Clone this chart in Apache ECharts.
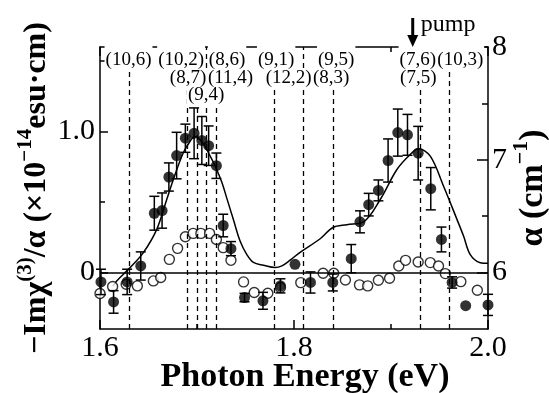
<!DOCTYPE html>
<html>
<head>
<meta charset="UTF-8">
<title></title>
<style>
  html, body { margin: 0; padding: 0; background: #fff; }
  #chart { width: 549px; height: 393px; }
</style>
</head>
<body>
<div id="chart"></div>
<script src="https://cdn.jsdelivr.net/npm/echarts@6/dist/echarts.min.js"></script>
<script>
// filled dots: -Im chi(3)/alpha with error bars
var energyFilled = [1.601, 1.614, 1.628, 1.642, 1.656, 1.664, 1.671, 1.679, 1.688, 1.697, 1.705, 1.712,
    1.720, 1.727, 1.735, 1.749, 1.768, 1.786, 1.801, 1.817, 1.840, 1.859, 1.868, 1.877, 1.887, 1.897,
    1.907, 1.917, 1.928, 1.941, 1.952, 1.963, 1.977, 2.000];
var chiFilled = [-0.066, -0.208, -0.066, 0.047, 0.421, 0.44, 0.678, 0.83, 0.953, 0.988, 0.937, 0.90,
    0.758, 0.334, 0.17, -0.177, -0.20, -0.094, 0.059, -0.07, -0.07, 0.099, 0.36, 0.482, 0.583, 0.795,
    0.993, 0.977, 0.847, 0.595, 0.235, -0.07, -0.235, -0.229];
var errFilled = [0.09, 0.08, 0.09, 0.10, 0.12, 0.125, 0.10, 0.165, 0.10, 0.18, 0.17, 0.14,
    0.09, 0.08, 0.05, 0.03, 0.06, 0.05, 0, 0.075, 0.06, 0.10, 0.078, 0.08, 0.074, 0.153,
    0.167, 0.145, 0.19, 0.15, 0.088, 0.04, 0, 0.075];

// open circles
var energyOpen = [1.600, 1.613, 1.627, 1.6385, 1.655, 1.6626, 1.6715, 1.680, 1.688, 1.696, 1.704, 1.713,
    1.720, 1.727, 1.735, 1.748, 1.759, 1.773, 1.786, 1.807, 1.830, 1.841, 1.853, 1.8675, 1.876, 1.887,
    1.8985, 1.908, 1.915, 1.928, 1.9405, 1.949, 1.956, 1.972, 1.989];
var chiOpen = [-0.148, -0.099, -0.083, -0.094, -0.059, -0.035, 0.094, 0.172, 0.254, 0.278, 0.278, 0.278,
    0.235, 0.177, 0.087, -0.066, -0.141, -0.146, -0.106, -0.071, -0.005, -0.005, -0.052, -0.087, -0.094, -0.054,
    -0.040, 0.047, 0.087, 0.075, 0.071, 0.047, -0.007, -0.064, -0.125];

// absorption (right axis)
var energyAbs = [1.6134, 1.6172, 1.631, 1.6447, 1.6585, 1.6688, 1.6774, 1.6859, 1.6929, 1.698, 1.705, 1.712,
    1.7195, 1.7256, 1.7307, 1.7375, 1.7444, 1.7514, 1.7582, 1.7685, 1.7806, 1.7875, 1.796, 1.8063, 1.827,
    1.8401, 1.8545, 1.8717, 1.8889, 1.9061, 1.9198, 1.9284, 1.9405, 1.9542, 1.968, 1.9748, 1.9817, 1.992, 2.0];
var alphaAbs = [5.88, 5.926, 6.044, 6.177, 6.383, 6.649, 6.870, 7.062, 7.165, 7.206, 7.16, 7.06,
    6.93, 6.80, 6.66, 6.47, 6.28, 6.16, 6.09, 6.065, 6.045, 6.06, 6.11, 6.18, 6.30,
    6.40, 6.425, 6.45, 6.648, 6.914, 7.047, 7.097, 7.032, 6.766, 6.472, 6.324, 6.16, 6.088, 6.082];

// assignment lines and labels
var assignLines = [1.6337, 1.6887, 1.7032, 1.7125, 1.7245, 1.7788, 1.8054, 1.8408, 1.9261, 1.9622];
var labelText = ['(10,6)', '(10,2)', '(8,6)', '(9,1)', '(9,5)', '(7,6)', '(10,3)',
    '(8,7)', '(11,4)', '(12,2)', '(8,3)', '(7,5)', '(9,4)'];
var labelE = [1.6294, 1.6836, 1.731, 1.7816, 1.8435, 1.9276, 1.9714,
    1.6908, 1.7346, 1.7945, 1.8383, 1.9281, 1.7094];
var labelRow = [0, 0, 0, 0, 0, 0, 0, 1, 1, 1, 1, 1, 2];
var pumpE = 1.9224;

var FONT = '"Liberation Serif", "Times New Roman", serif';
var black = '#000';

var chart = echarts.init(document.getElementById('chart'));

function zip(a, b, c) {
    return a.map(function (v, i) { return c ? [v, b[i], c[i]] : [v, b[i]]; });
}

var lineAx = { show: true, onZero: false, lineStyle: { color: black, width: 1.5 } };
var tickStyle = { color: black, width: 1.5 };
var nameRich = function (size) {
    return {
        b: { fontFamily: FONT, fontWeight: 'bold', fontSize: size, color: black, lineHeight: size + 6, verticalAlign: 'bottom' },
        s: { fontFamily: FONT, fontWeight: 'bold', fontSize: Math.round(size * 0.66), color: black, lineHeight: 20, verticalAlign: 'top' }
    };
};

var option = {
    animation: false,
    grid: { left: 100, right: 61, top: 47, bottom: 64, outerBoundsMode: 'none', containLabel: false },
    xAxis: [
        {
            type: 'value', min: 1.6, max: 2.0, interval: 0.2, position: 'bottom',
            axisLine: lineAx,
            axisTick: { inside: true, length: 9, lineStyle: tickStyle },
            minorTick: { show: true, splitNumber: 2, length: 5, lineStyle: tickStyle },
            splitLine: { show: false },
            minorSplitLine: { show: false },
            axisLabel: {
                fontFamily: FONT, fontSize: 30, color: black, margin: 4,
                formatter: function (v) { return v.toFixed(1); }
            },
            name: 'Photon Energy (eV)', nameLocation: 'middle', nameGap: 31, nameMoveOverlap: false,
            nameTextStyle: { fontFamily: FONT, fontWeight: 'bold', fontSize: 34, color: black, padding: [0, 0, 0, 22] }
        },
        {
            type: 'value', min: 1.6, max: 2.0, interval: 0.2, position: 'top',
            axisLine: lineAx,
            axisTick: { inside: true, length: 9, lineStyle: tickStyle },
            minorTick: { show: true, splitNumber: 2, length: 5, lineStyle: tickStyle },
            splitLine: { show: false },
            axisLabel: { show: false }
        }
    ],
    yAxis: [
        {
            type: 'value', min: -0.4, max: 1.6, position: 'left',
            axisLine: lineAx,
            axisTick: { inside: true, length: 8, lineStyle: tickStyle, customValues: [0, 1] },
            axisLabel: {
                customValues: [0, 1], fontFamily: FONT, fontSize: 30, color: black, margin: 5,
                formatter: function (v) { return v === 0 ? '0' : v.toFixed(1); }
            },
            splitLine: { show: false },
            name: '{b|\u2212Im\u03c7}{s|(3)}{b|/\u03b1 (\u00d710}{s|\u221214}{b|esu\u00b7cm)}',
            nameLocation: 'middle', nameRotate: 90, nameGap: 47, nameMoveOverlap: false,
            nameTextStyle: { rich: nameRich(32) }
        },
        {
            type: 'value', min: -0.4, max: 1.6, position: 'left',
            axisLine: { show: false },
            axisTick: { show: true, inside: true, length: 5, lineStyle: tickStyle, customValues: [0.5, 1.5] },
            axisLabel: { show: false },
            splitLine: { show: false }
        },
        {
            type: 'value', min: 5.5, max: 8, position: 'right',
            axisLine: lineAx,
            axisTick: { inside: true, length: 11, lineStyle: tickStyle, customValues: [6, 7, 8] },
            axisLabel: {
                customValues: [6, 7, 8], fontFamily: FONT, fontSize: 30, color: black, margin: 4
            },
            splitLine: { show: false },
            name: '{b|\u03b1 (cm}{s|\u22121}{b|)}',
            nameLocation: 'middle', nameRotate: 90, nameGap: 22, nameMoveOverlap: false,
            nameTextStyle: { rich: nameRich(34) }
        },
        {
            type: 'value', min: 5.5, max: 8, position: 'right',
            axisLine: { show: false },
            axisTick: { show: true, inside: true, length: 6, lineStyle: tickStyle, customValues: [6.5, 7.5] },
            axisLabel: { show: false },
            splitLine: { show: false }
        }
    ],
    series: [
        {
            name: 'abs', type: 'line', xAxisIndex: 0, yAxisIndex: 2,
            data: zip(energyAbs, alphaAbs),
            smooth: 0.35, showSymbol: false, symbol: 'none',
            lineStyle: { color: black, width: 1.5 }, z: 2
        },
        {
            name: 'open', type: 'scatter', xAxisIndex: 0, yAxisIndex: 0,
            data: zip(energyOpen, chiOpen),
            symbol: 'circle', symbolSize: 10,
            itemStyle: { color: '#fff', borderColor: black, borderWidth: 1.4 },
            z: 4,
            markLine: {
                silent: true, symbol: ['none', 'none'], label: { show: false },
                data: assignLines.map(function (e) {
                    return { xAxis: e, lineStyle: { type: [5, 4], color: black, width: 1.3 } };
                }).concat([{ yAxis: 0, lineStyle: { type: 'solid', color: black, width: 1.5 } }])
            }
        },
        {
            name: 'err', type: 'custom', xAxisIndex: 0, yAxisIndex: 0,
            data: zip(energyFilled, chiFilled, errFilled),
            encode: { x: 0, y: 1 },
            z: 5,
            renderItem: function (params, api) {
                var x = api.value(0), y = api.value(1), e = api.value(2);
                if (!e) return null;
                var t = api.coord([x, y + e]), b = api.coord([x, y - e]);
                var w = 5;
                var st = { stroke: black, lineWidth: 1.5 };
                return {
                    type: 'group',
                    children: [
                        { type: 'line', shape: { x1: t[0], y1: t[1], x2: b[0], y2: b[1] }, style: st },
                        { type: 'line', shape: { x1: t[0] - w, y1: t[1], x2: t[0] + w, y2: t[1] }, style: st },
                        { type: 'line', shape: { x1: b[0] - w, y1: b[1], x2: b[0] + w, y2: b[1] }, style: st }
                    ]
                };
            }
        },
        {
            name: 'filled', type: 'scatter', xAxisIndex: 0, yAxisIndex: 0,
            data: zip(energyFilled, chiFilled),
            symbol: 'circle', symbolSize: 11,
            itemStyle: { color: black },
            z: 6
        }
    ]
};

chart.setOption(option);

// chirality labels (white boxes hide the frame and dashes behind them) and pump arrow
var rowTop = [45, 69, 87];
var rowBot = [70, 87, 104];
var ctx = document.createElement('canvas').getContext('2d');
ctx.font = '19px ' + FONT;
var elems = [];
labelText.forEach(function (t, i) {
    var r = labelRow[i];
    var cx = chart.convertToPixel({ xAxisIndex: 0 }, labelE[i]);
    var w = ctx.measureText(t).width + 2;
    elems.push({
        type: 'rect', z: 100 + 2 * r,
        shape: { x: cx - w / 2, y: rowTop[r], width: w, height: rowBot[r] - rowTop[r] },
        style: { fill: '#fff' }
    });
    elems.push({
        type: 'text', z: 101 + 2 * r,
        x: cx, y: (rowTop[r] + rowBot[r]) / 2 + (r === 0 ? 3 : 0),
        style: {
            text: t, fontFamily: FONT, fontSize: 19, fill: black,
            align: 'center', verticalAlign: 'middle'
        }
    });
});
var ax = chart.convertToPixel({ xAxisIndex: 0 }, pumpE);
elems.push(
    { type: 'line', z: 110, shape: { x1: ax, y1: 18, x2: ax, y2: 38 }, style: { stroke: black, lineWidth: 3 } },
    { type: 'polygon', z: 110, shape: { points: [[ax - 5.5, 35], [ax + 5.5, 35], [ax, 47]] }, style: { fill: black } },
    {
        type: 'text', z: 110, x: ax + 8, y: 25,
        style: { text: 'pump', fontFamily: FONT, fontSize: 24, fill: black, align: 'left', verticalAlign: 'middle' }
    }
);
chart.setOption({ graphic: { elements: elems } });
</script>
</body>
</html>
